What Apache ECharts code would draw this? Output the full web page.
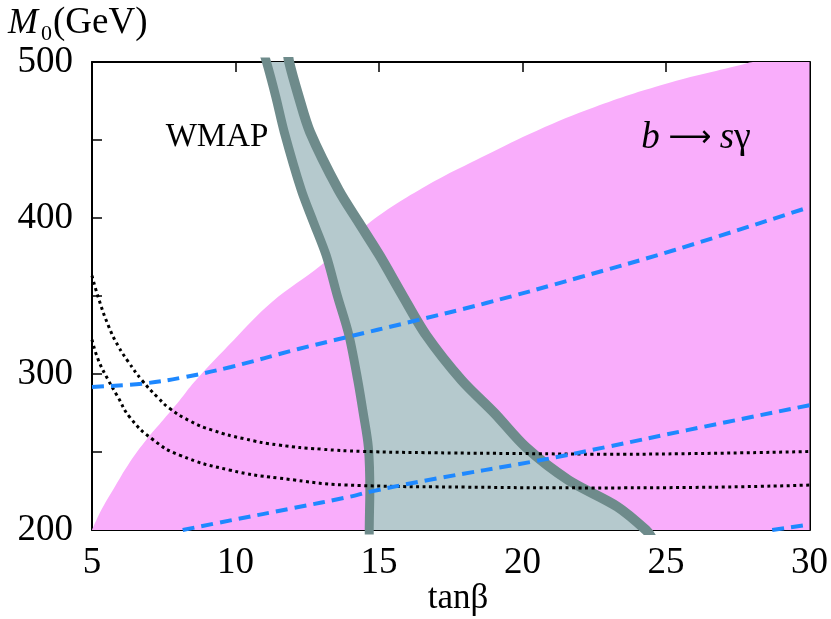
<!DOCTYPE html>
<html>
<head>
<meta charset="utf-8">
<script src="https://cdn.jsdelivr.net/npm/echarts@6/dist/echarts.min.js"></script>
<style>
  html, body { margin: 0; padding: 0; background: #fff; }
  #chart { width: 831px; height: 619px; }
</style>
</head>
<body>
<div id="chart"></div>
<script>
// axis ticks
var xTicks = [5, 10, 15, 20, 25, 30];
var yTickLabels = [200, 300, 400, 500];

// b -> s gamma allowed region (upper edge)
var bsgEdge = [[5, 200], [5.3, 212], [5.74, 226], [6.3, 243], [6.9, 258], [7.5, 271], [8.05, 283],
  [8.57, 295], [9.95, 322], [11.26, 346], [13, 370], [14.6, 396], [16.5, 419], [18.7, 440],
  [20.5, 456], [22.5, 471], [25, 486], [27.6, 498], [28.1, 500], [30, 500]];

// WMAP band, edges
var wmapLeft = [[10.9, 510], [11.08, 500], [11.4, 478], [11.7, 455], [12.29, 418], [12.7, 398],
  [13.16, 376], [13.55, 350], [13.95, 325], [14.26, 296], [14.45, 275], [14.63, 253],
  [14.68, 225], [14.66, 200], [14.66, 190]];
var wmapRight = [[11.8, 510], [11.87, 500], [12.2, 478], [12.6, 455], [13.59, 418], [14.3, 397],
  [15.02, 376], [15.8, 351], [16.64, 325], [17.88, 296], [19.02, 275], [20.12, 253],
  [21.6, 232], [23.3, 215], [24.3, 200], [24.5, 195]];

// dotted curves
var dotUpper = [[5, 363], [5.22, 349], [5.57, 331], [5.91, 318], [6.26, 308], [6.74, 296],
  [7.29, 285], [7.7, 278], [8.4, 270], [9.19, 264], [10.3, 258.5], [11.5, 254.5], [13, 251.8],
  [14.4, 250.4], [17, 249.5], [20, 249], [23, 248.6], [26, 249], [30, 250.3]];
var dotLower = [[5, 322], [5.22, 309], [5.57, 296], [5.88, 286], [6.33, 272], [7.12, 258],
  [8.05, 248], [9.78, 238.5], [11.5, 233.3], [14.36, 228.5], [18, 227.5], [22.5, 227],
  [26, 227.3], [30, 228.8]];

// dashed curves
var dashTop = [[5, 291.7], [6.84, 294], [8.22, 298], [9.84, 304.5], [12.19, 316], [13.9, 323.7],
  [16, 333], [18.74, 345.5], [22, 362], [25.3, 379.5], [30, 407]];
var dashMid = [[8.16, 200], [9.89, 206.4], [12, 214], [14, 221.4], [14.7, 224.6], [17, 233],
  [20.35, 243.8], [23, 253.5], [25.74, 264], [30, 280]];
var dashLow = [[28.7, 200], [30, 203.5]];

var serif = 'Liberation Serif';
var chart = echarts.init(document.getElementById('chart'));

var axisLine = { show: true, lineStyle: { color: '#000', width: 2 } };
var axisTick = { show: true, inside: true, length: 10, lineStyle: { color: '#000', width: 1.5 } };

var option = {
  animation: false,
  grid: { left: 92, right: 14, top: 62, bottom: 89 },
  xAxis: [
    {
      type: 'value', min: 5, max: 30, interval: 5, position: 'bottom',
      axisLine: axisLine, axisTick: axisTick, splitLine: { show: false },
      axisLabel: {
        margin: 15, color: '#000', fontFamily: serif, fontSize: 37,
        formatter: function (v) { return xTicks.indexOf(v) >= 0 ? String(v) : ''; }
      }
    },
    {
      type: 'value', min: 5, max: 30, interval: 5, position: 'top',
      axisLine: axisLine, axisTick: axisTick, splitLine: { show: false },
      axisLabel: { show: false }
    }
  ],
  yAxis: [
    {
      type: 'value', min: 200, max: 500, interval: 50, position: 'left',
      axisLine: axisLine, axisTick: axisTick, splitLine: { show: false },
      axisLabel: {
        margin: 19, color: '#000', fontFamily: serif, fontSize: 37,
        formatter: function (v) { return yTickLabels.indexOf(v) >= 0 ? String(v) : ''; }
      }
    },
    {
      type: 'value', min: 200, max: 500, interval: 50, position: 'right',
      axisLine: axisLine, axisTick: axisTick, splitLine: { show: false },
      axisLabel: { show: false }
    }
  ],
  series: [
    {
      type: 'line', data: bsgEdge, showSymbol: false, silent: true, z: 1, smooth: 0.4,
      lineStyle: { width: 0, opacity: 0 },
      areaStyle: { color: '#f9adfb', opacity: 1, origin: 'start' }
    },
    {
      type: 'custom', clip: true, silent: true, z: 2,
      data: wmapLeft,
      renderItem: function (params, api) {
        if (params.dataIndex !== 0) return null;
        var pts = wmapLeft.concat(wmapRight.slice().reverse()).map(function (p) { return api.coord(p); });
        return { type: 'polygon', shape: { points: pts, smooth: 0.2 }, style: { fill: '#b5c9cd' } };
      }
    },
    {
      type: 'line', data: wmapLeft, showSymbol: false, silent: true, z: 3, smooth: 0.3,
      lineStyle: { color: '#6e8b8b', width: 9 }
    },
    {
      type: 'line', data: wmapRight, showSymbol: false, silent: true, z: 3, smooth: 0.3,
      lineStyle: { color: '#6e8b8b', width: 10 }
    },
    {
      type: 'line', data: dotUpper, showSymbol: false, silent: true, z: 4, smooth: 0.5,
      lineStyle: { color: '#000', width: 3, type: [3, 3.5] }
    },
    {
      type: 'line', data: dotLower, showSymbol: false, silent: true, z: 4, smooth: 0.5,
      lineStyle: { color: '#000', width: 3, type: [3, 3.5] }
    },
    {
      type: 'line', data: dashTop, showSymbol: false, silent: true, z: 5, smooth: 0.4,
      lineStyle: { color: '#1e88ff', width: 4, type: [12, 7] }
    },
    {
      type: 'line', data: dashMid, showSymbol: false, silent: true, z: 5, smooth: 0.4,
      lineStyle: { color: '#1e88ff', width: 4, type: [12, 7] }
    },
    {
      type: 'line', data: dashLow, showSymbol: false, silent: true, z: 5,
      lineStyle: { color: '#1e88ff', width: 4, type: [12, 7] }
    }
  ],
  graphic: [
    {
      type: 'text', left: 8, top: 6, z: 100,
      style: { text: 'M', font: 'italic 36px "Liberation Serif"', fill: '#000' }
    },
    {
      type: 'text', left: 41, top: 23, z: 100,
      style: { text: '0', font: '22px "Liberation Serif"', fill: '#000' }
    },
    {
      type: 'text', left: 53, top: 5, z: 100,
      style: { text: '(GeV)', font: '37px "Liberation Serif"', fill: '#000' }
    },
    {
      type: 'text', x: 217, y: 137, z: 100,
      style: { text: 'WMAP', font: '33px "Liberation Serif"', fill: '#000', textAlign: 'center', textVerticalAlign: 'middle' }
    },
    {
      type: 'text', x: 696, y: 138, z: 100,
      style: {
        text: '{i|b} {a|⟶} {i|s}{g|γ}', fill: '#000', textAlign: 'center', textVerticalAlign: 'middle',
        font: '34px "Liberation Serif"',
        rich: {
          i: { fontStyle: 'italic', fontFamily: serif, fontSize: 37 },
          a: { fontFamily: 'DejaVu Sans', fontSize: 30 },
          g: { fontFamily: serif, fontSize: 38 }
        }
      }
    },
    {
      type: 'text', x: 458, y: 599, z: 100,
      style: { text: 'tanβ', font: '35px "Liberation Serif"', fill: '#000', textAlign: 'center', textVerticalAlign: 'middle' }
    }
  ]
};

chart.setOption(option);
</script>
</body>
</html>
